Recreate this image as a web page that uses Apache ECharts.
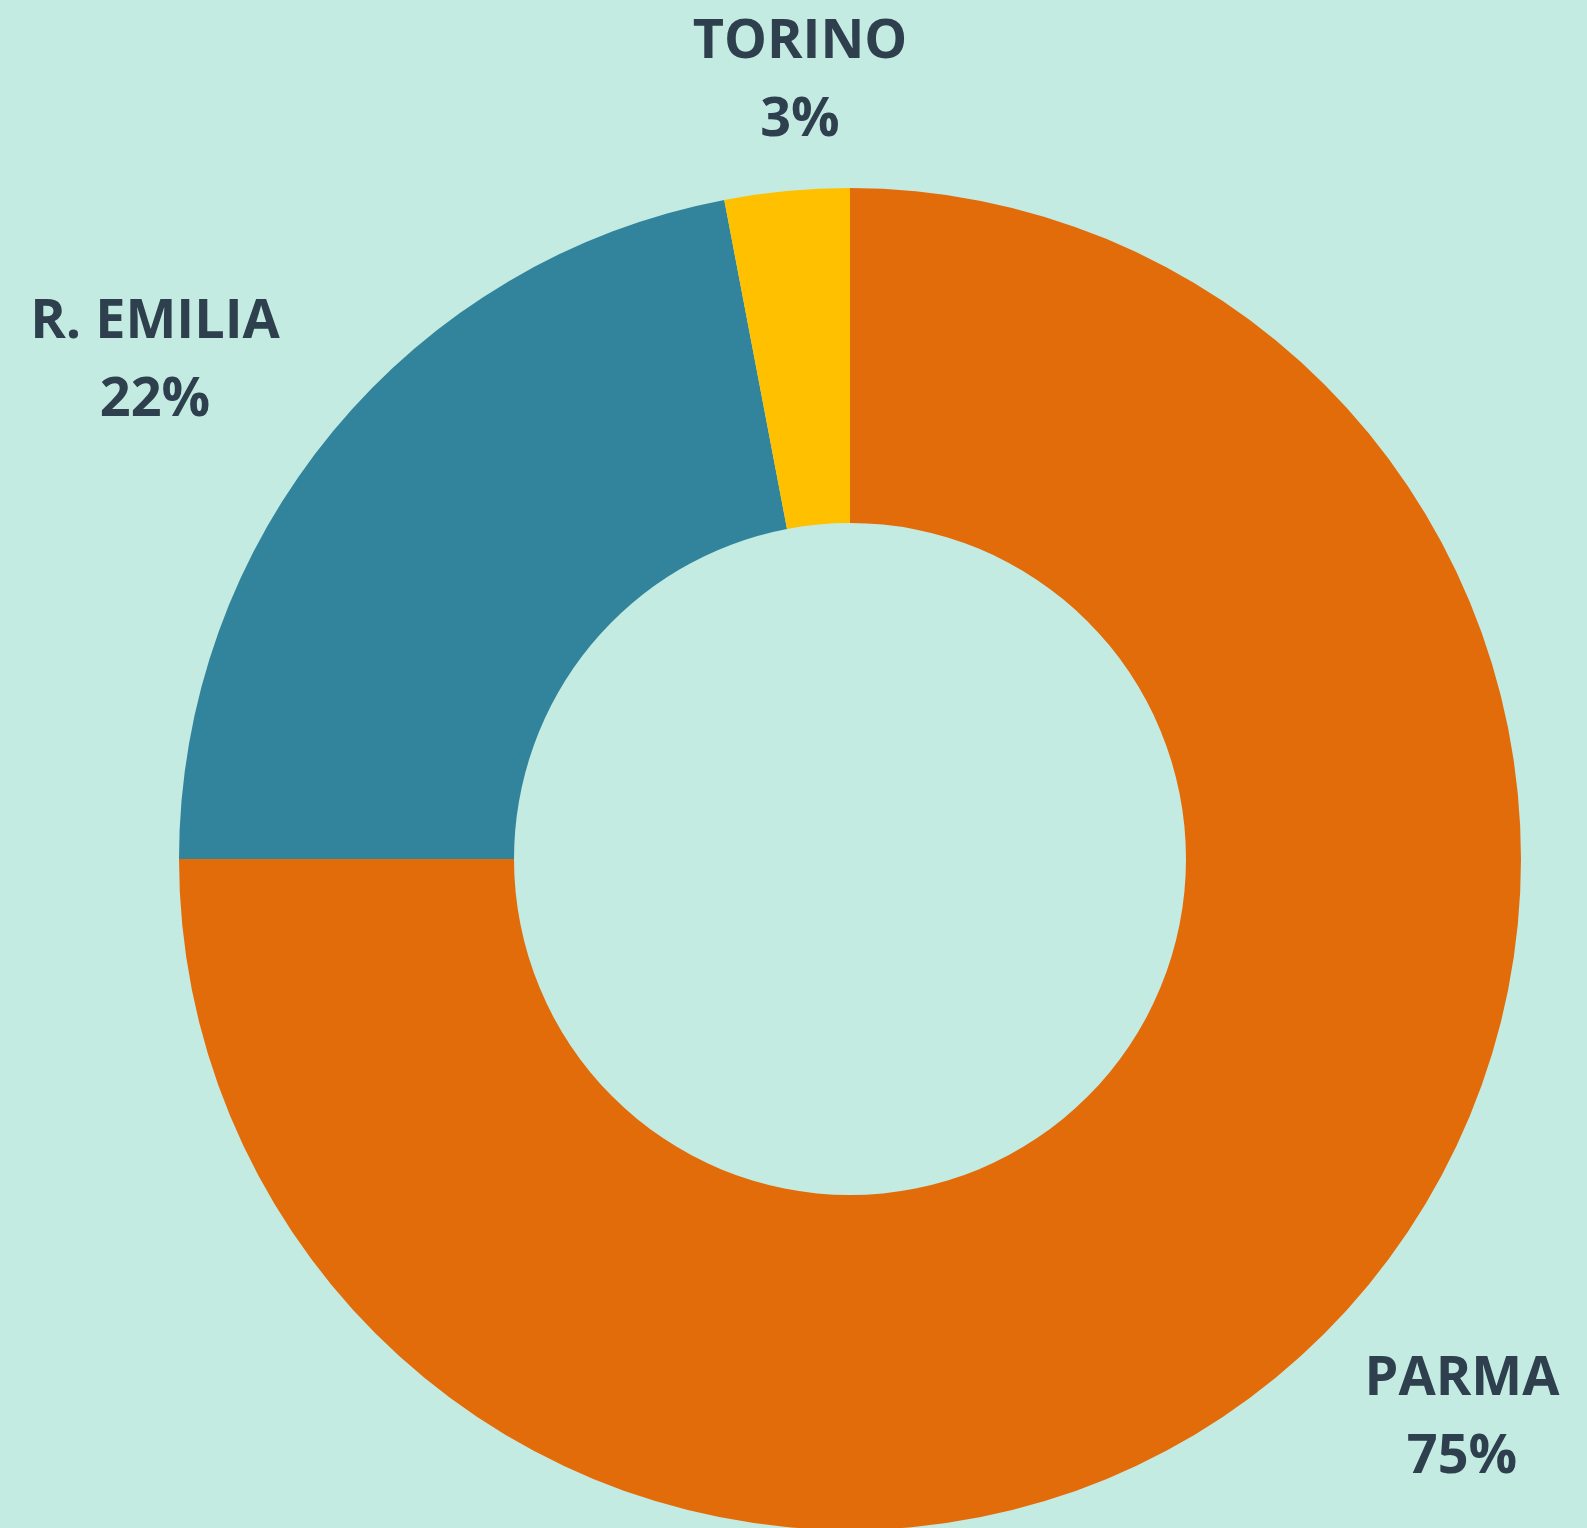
<!DOCTYPE html>
<html>
<head>
<meta charset="utf-8">
<script src="https://cdn.jsdelivr.net/npm/echarts@6/dist/echarts.min.js"></script>
<style>
  html, body { margin: 0; padding: 0; background: #c4ebe2; }
  #chart { width: 1587px; height: 1528px; }
</style>
</head>
<body>
<div id="chart"></div>
<script>
// città e quote
var cities = ['PARMA', 'R. EMILIA', 'TORINO']
var shares = [75, 22, 3]
var colors = ['#e36c0a', '#31849b', '#ffc000']

// posizione delle etichette (centro del blocco di testo)
var labelPos = {
  'PARMA': [1462, 1419],
  'R. EMILIA': [155, 362],
  'TORINO': [800, 82]
}

var myChart = echarts.init(document.getElementById('chart'))
var option = {
  backgroundColor: '#c4ebe2',
  series: [
    {
      type: 'pie',
      center: [850, 859],
      radius: [336, 671],
      startAngle: 90,
      clockwise: true,
      percentPrecision: 0,
      silent: true,
      label: {
        show: true,
        position: 'outside',
        formatter: '{b}\n{d}%',
        color: '#2e404d',
        fontFamily: 'Open Sans',
        fontWeight: 'bold',
        fontSize: 54,
        lineHeight: 78,
        align: 'center'
      },
      labelLine: { show: false },
      labelLayout: function (params) {
        var p = labelPos[cities[params.dataIndex]]
        return { x: p[0], y: p[1], align: 'center', verticalAlign: 'middle' }
      },
      data: cities.map(function (c, i) {
        return { name: c, value: shares[i], itemStyle: { color: colors[i] } }
      })
    }
  ]
}
myChart.setOption(option)
</script>
</body>
</html>
